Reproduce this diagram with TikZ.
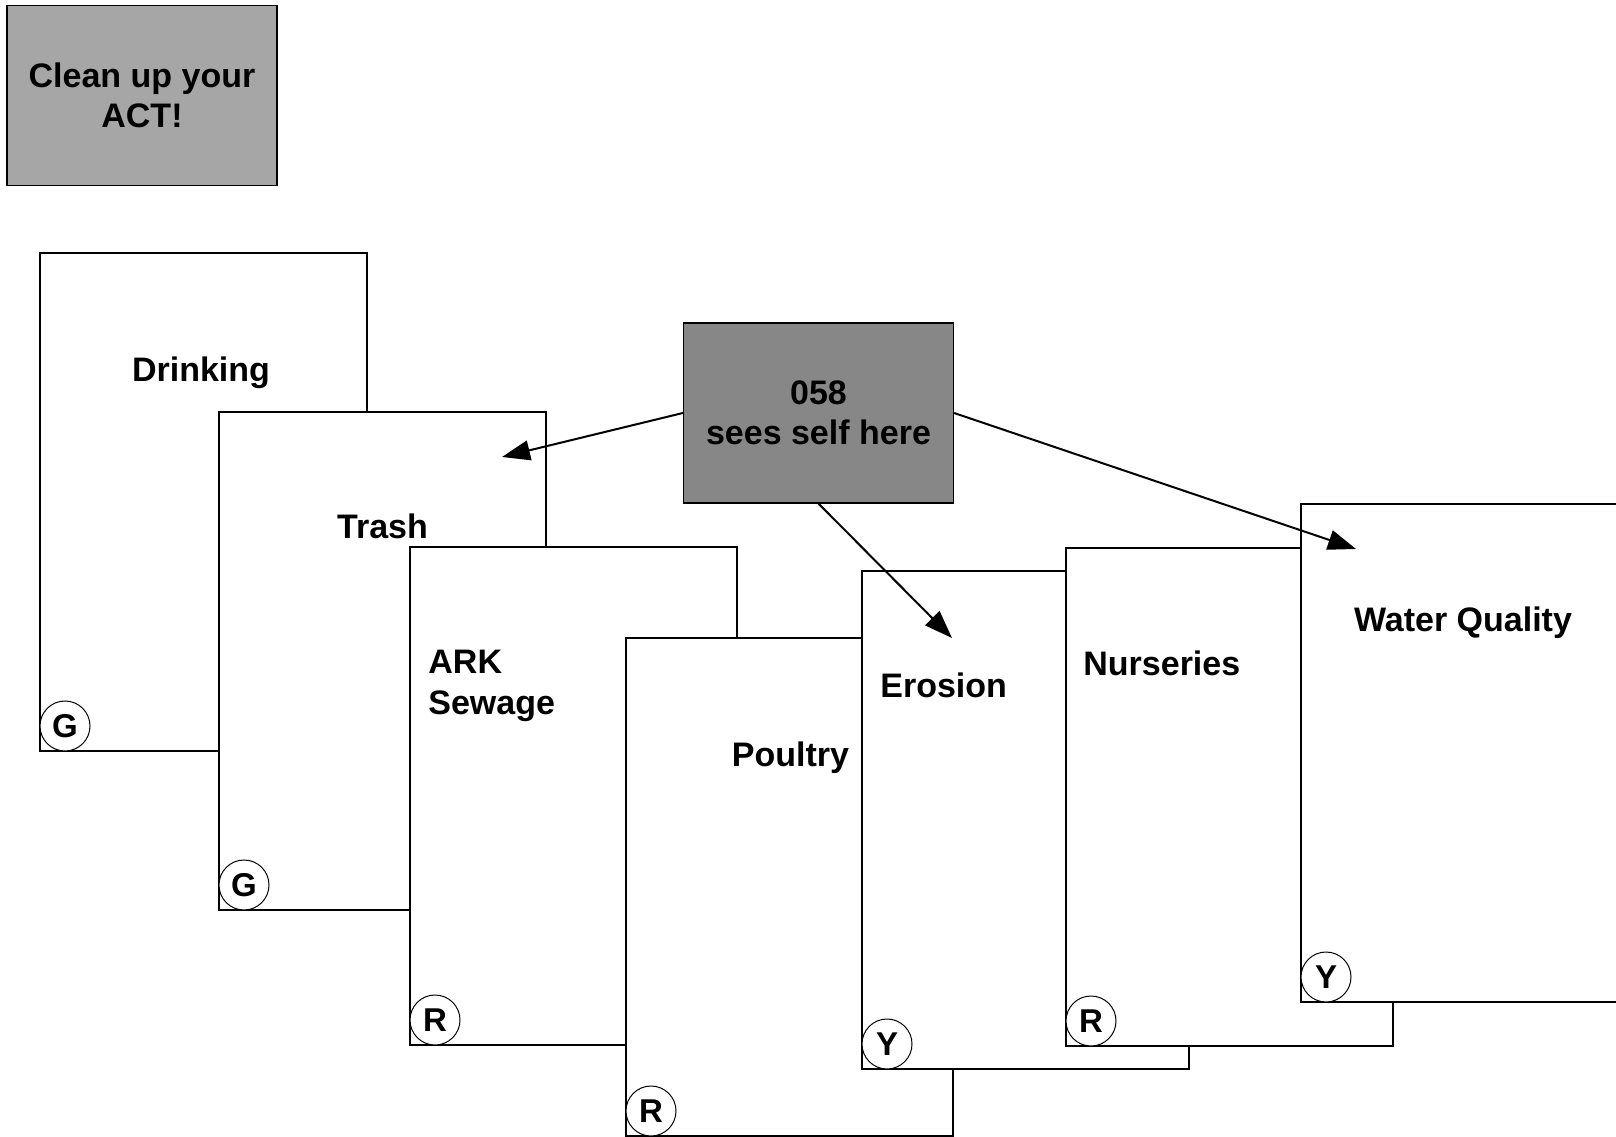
\documentclass[tikz,border=0pt]{standalone}
\usepackage{fontspec}
\setmainfont{Liberation Sans}
\usetikzlibrary{arrows.meta}

\begin{document}
\begin{tikzpicture}[x=0.5pt, y=0.5pt,
    card/.style={draw, fill=white, line width=0.7pt, inner sep=0pt, outer sep=0pt, minimum width=163.5pt, minimum height=249pt, anchor=north west},
    cardtext/.style={font=\fontsize{17}{20.5}\selectfont\bfseries, inner sep=0pt, align=left},
    badge/.style={circle, draw, fill=white, line width=0.5pt, inner sep=0pt, minimum size=25pt, font=\fontsize{16.5}{16.5}\selectfont\bfseries},
    graybox/.style={draw, line width=0.6pt, inner sep=0pt, minimum width=135pt, minimum height=90pt, align=center, font=\fontsize{17}{20}\selectfont\bfseries},
    pointer/.style={-{Triangle[length=14pt, width=10pt]}, line width=1pt}]
    \clip (0,0) rectangle (1616,1136);

    \node[card] (drinking) at (40,883) {};
    \node[cardtext, anchor=base] (drinkingtext) at (201,754) {Drinking};
    \node[badge] (drinkingbadge) at ([shift={(25,25)}]drinking.south west) {G};

    \node[card] (trash) at (219,724) {};
    \node[cardtext, anchor=base] (trashtext) at (382.5,597) {Trash};
    \node[badge] (trashbadge) at ([shift={(25,25)}]trash.south west) {G};

    \node[card] (sewage) at (410,589) {};
    \node[cardtext, anchor=north west] (sewagetext) at (428,486) {ARK\\Sewage};
    \node[badge] (sewagebadge) at ([shift={(25,25)}]sewage.south west) {R};

    \node[card] (poultry) at (626,498) {};
    \node[cardtext, anchor=base] (poultrytext) at (790.5,370) {Poultry};
    \node[badge] (poultrybadge) at ([shift={(25,25)}]poultry.south west) {R};

    \node[card] (erosion) at (862,565) {};
    \node[cardtext, anchor=base west] (erosiontext) at (880,438) {Erosion};
    \node[badge] (erosionbadge) at ([shift={(25,25)}]erosion.south west) {Y};

    \node[card] (nurseries) at (1066,588) {};
    \node[cardtext, anchor=base west] (nurseriestext) at (1083,460) {Nurseries};
    \node[badge] (nurseriesbadge) at ([shift={(25,25)}]nurseries.south west) {R};

    \node[card] (water) at (1301,632) {};
    \node[cardtext, anchor=base] (watertext) at (1463,504) {Water Quality};
    \node[badge] (waterbadge) at ([shift={(25,25)}]water.south west) {Y};

    \node[graybox, fill=black!35] (act) at (142,1040.5) {Clean up your\\ACT!};
    \node[graybox, fill=black!47] (self) at (818.5,723) {058\\sees self here};

    \coordinate (trashtip) at (502,679);
    \coordinate (erosiontip) at (952,498);
    \coordinate (watertip) at (1356,587);

    \draw[pointer] (self.west) -- (trashtip);
    \draw[pointer] (self.south) -- (erosiontip);
    \draw[pointer] (self.east) -- (watertip);
\end{tikzpicture}
\end{document}
